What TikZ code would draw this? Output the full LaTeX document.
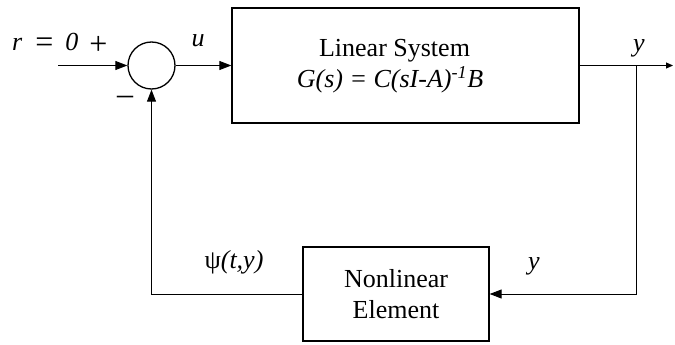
\documentclass[tikz,border=0pt]{standalone}
\usepackage{fontspec}
\setmainfont{Liberation Serif}
\usetikzlibrary{arrows.meta}
\tikzset{
  blk/.style={draw, line width=1.3pt, inner sep=0pt},
  sig/.style={line width=0.9pt},
  arr/.style={sig, -{Triangle[length=12pt, width=9pt]}},
  lbl/.style={font=\fontsize{26}{31}\selectfont, inner sep=0pt},
}
\newcommand{\bigsym}[2]{\raisebox{#1}{\fontsize{32}{32}\selectfont #2}}
\begin{document}
\begin{tikzpicture}[x=1pt, y=-1pt]
\useasboundingbox (0,0) rectangle (675,345);
% blocks
\node[blk, minimum width=347pt, minimum height=115pt] (lin) at (405.5,65.5) {};
\node[blk, minimum width=186pt, minimum height=94pt, lbl, align=center] (nl) at (396,294) {Nonlinear\\Element};
\node[draw, circle, line width=1.3pt, minimum size=47pt, inner sep=0pt] (sum) at (151.5,65.5) {};
% texts in linear block
\node[lbl, anchor=base] (t1) at (394.5,57) {Linear System};
\node[lbl, anchor=base] (t2) at (390,88) {\textit{G(s) = C(sI-A)}\textsuperscript{\textit{-1}}\textit{B}};
% coordinates
\coordinate (in) at (58,65.5);
\coordinate (out) at (673,65.5);
\coordinate (br) at (636,65.5);
\coordinate (c1) at (636,294);
\coordinate (c2) at (151.5,294);
% connectors
\draw[arr] (in) -- (sum.west);
\draw[arr] (sum.east) -- (sum.east -| lin.west);
\draw[sig, -{Triangle[length=7pt, width=6pt]}] (lin.east |- br) -- (out);
\draw[arr] (br) -- (c1) -- (nl.east);
\draw[arr] (nl.west) -- (c2) -- (sum.south);
% labels
\node[lbl, anchor=base west] (rlab) at (12,51) {\textit{r}\hspace{13pt}\bigsym{-2pt}{=}\hspace{12pt}\textit{0}\hspace{11pt}\bigsym{-4pt}{+}};
\node[lbl] (minus) at (125,100) {\bigsym{0pt}{\textendash}};
\node[lbl, anchor=base] (ulab) at (198,47) {\textit{u}};
\node[lbl, anchor=base] (ylab) at (639,52) {\textit{y}};
\node[lbl, anchor=base] (ylab2) at (534,269) {\textit{y}};
\node[lbl, anchor=base] (psilab) at (234,268) {ψ\textit{(t,y)}};
\end{tikzpicture}
\end{document}
